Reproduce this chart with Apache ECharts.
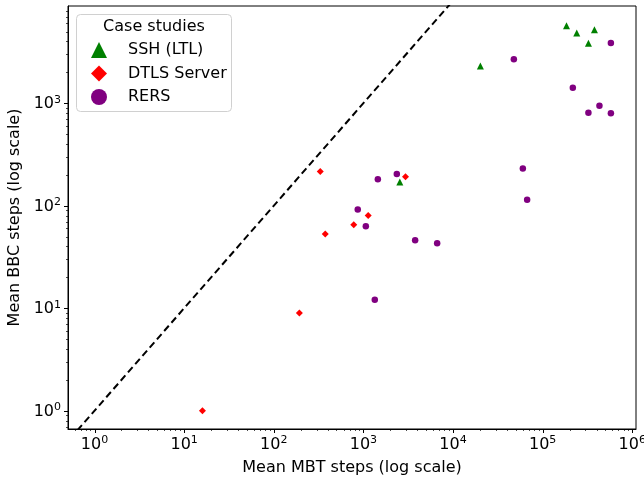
<!DOCTYPE html>
<html>
<head>
<meta charset="utf-8">
<script src="https://cdn.jsdelivr.net/npm/echarts@6/dist/echarts.min.js"></script>
<style>
html, body { margin: 0; padding: 0; background: #fff; }
#chart { width: 644px; height: 484px; }
</style>
</head>
<body>
<div id="chart"></div>
<script>
// values: mean MBT steps (x) vs mean BBC steps (y)
var sshX = [2550, 20200, 184500, 240000, 378000, 324000];
var sshY = [170, 2310, 5700, 4840, 5210, 3840];
var dtlsX = [16, 193, 330, 375, 780, 1130, 2950];
var dtlsY = [1, 9, 215, 53, 65, 80, 192];
var rersX = [1340, 865, 1064, 1449, 2360, 3777, 6650, 47700, 60100, 67100, 217000, 324000, 430000, 577000, 577000];
var rersY = [12.1, 92, 63, 181, 204, 46, 43, 2680, 230, 114, 1416, 808, 946, 797, 3870];
// y = x reference line
var diagonal = [0.1, 100000];
// axis ranges and decades that get a label
var xRange = [0.506, 1.1e6];
var yRange = [0.663, 8870];

var font = 'DejaVu Sans';

function zip(xs, ys) {
  return xs.map(function (x, i) { return [x, ys[i]]; });
}

function powLabel(v) {
  var lg = Math.log10(v);
  var e = Math.round(lg);
  if (Math.abs(lg - e) > 1e-6) return '';
  return '{b|10}{s|' + e + '}';
}

var labelRich = {
  b: { fontSize: 16, fontFamily: font, color: '#000', verticalAlign: 'bottom' },
  s: { fontSize: 11, fontFamily: font, color: '#000', verticalAlign: 'bottom', padding: [0, 0, 7, 0] }
};

var chart = echarts.init(document.getElementById('chart'), null, { renderer: 'canvas' });

chart.setOption({
  animation: false,
  backgroundColor: '#fff',
  grid: {
    left: 68, top: 6, right: 8, bottom: 55,
    show: true,
    borderColor: '#000',
    borderWidth: 1,
    outerBoundsMode: 'none'
  },
  xAxis: {
    type: 'log',
    logBase: 10,
    min: xRange[0],
    max: xRange[1],
    splitLine: { show: false },
    axisLine: { show: true, lineStyle: { color: '#000', width: 1 } },
    axisTick: { show: false },
    axisLabel: { margin: 6, formatter: powLabel, rich: labelRich },
    name: 'Mean MBT steps (log scale)',
    nameLocation: 'middle',
    nameGap: 31,
    nameTextStyle: { fontSize: 16, fontFamily: font, color: '#000' }
  },
  yAxis: {
    type: 'log',
    logBase: 10,
    min: yRange[0],
    max: yRange[1],
    splitLine: { show: false },
    axisLine: { show: true, lineStyle: { color: '#000', width: 1 } },
    axisTick: { show: false },
    axisLabel: { margin: 7, formatter: powLabel, rich: labelRich },
    name: 'Mean BBC steps (log scale)',
    nameLocation: 'middle',
    nameGap: 44,
    nameTextStyle: { fontSize: 16, fontFamily: font, color: '#000' }
  },
  legend: {
    orient: 'vertical',
    left: 91,
    top: 42,
    padding: 0,
    itemWidth: 16,
    itemHeight: 16,
    itemGap: 7.5,
    selectedMode: false,
    textStyle: { fontSize: 16, fontFamily: font, color: '#000', padding: [0, 0, 0, 16] },
    data: [
      { name: 'SSH (LTL)', icon: 'triangle' },
      { name: 'DTLS Server', icon: 'diamond' },
      { name: 'RERS', icon: 'circle' }
    ]
  },
  series: [
    {
      name: 'diagonal',
      type: 'line',
      data: zip(diagonal, diagonal),
      showSymbol: false,
      clip: true,
      silent: true,
      lineStyle: { color: '#000', width: 2, type: [7, 4] },
      z: 1
    },
    {
      name: 'SSH (LTL)',
      type: 'scatter',
      symbol: 'triangle',
      symbolSize: 7,
      data: zip(sshX, sshY),
      itemStyle: { color: 'green', opacity: 1 }
    },
    {
      name: 'DTLS Server',
      type: 'scatter',
      symbol: 'diamond',
      symbolSize: 7,
      data: zip(dtlsX, dtlsY),
      itemStyle: { color: 'red', opacity: 1 }
    },
    {
      name: 'RERS',
      type: 'scatter',
      symbol: 'circle',
      symbolSize: 6.5,
      data: zip(rersX, rersY),
      itemStyle: { color: 'purple', opacity: 1 }
    }
  ]
});

// log ticks (major + 2..9 minor), placed with the axes' own scales
function drawTicks() {
  var els = [];
  var x0 = chart.convertToPixel({ xAxisIndex: 0 }, xRange[0]);
  var y0 = chart.convertToPixel({ yAxisIndex: 0 }, yRange[0]);
  for (var k = -1; k <= 6; k++) {
    for (var m = 1; m <= 9; m++) {
      var v = m * Math.pow(10, k);
      var len = m === 1 ? 4 : 2;
      var w = m === 1 ? 1 : 0.7;
      if (v > xRange[0] && v < xRange[1]) {
        var px = Math.round(chart.convertToPixel({ xAxisIndex: 0 }, v)) + 0.5;
        els.push({ type: 'line', shape: { x1: px, y1: y0, x2: px, y2: y0 + len }, style: { stroke: '#000', lineWidth: w }, silent: true });
      }
      if (v > yRange[0] && v < yRange[1]) {
        var py = Math.round(chart.convertToPixel({ yAxisIndex: 0 }, v)) + 0.5;
        els.push({ type: 'line', shape: { x1: x0 - len, y1: py, x2: x0, y2: py }, style: { stroke: '#000', lineWidth: w }, silent: true });
      }
    }
  }
  // legend frame and title
  els.push({
    type: 'rect', z: 3,
    shape: { x: 76.5, y: 14.5, width: 155, height: 97, r: 4 },
    style: { fill: 'rgba(255,255,255,0.8)', stroke: '#d0d0d0', lineWidth: 1 },
    silent: true
  });
  els.push({
    type: 'text', z: 5,
    x: 154, y: 27,
    style: { text: 'Case studies', fontSize: 16, fontFamily: font, fill: '#000', align: 'center', verticalAlign: 'middle' },
    silent: true
  });
  chart.setOption({ graphic: { elements: els } });
}
drawTicks();
</script>
</body>
</html>
